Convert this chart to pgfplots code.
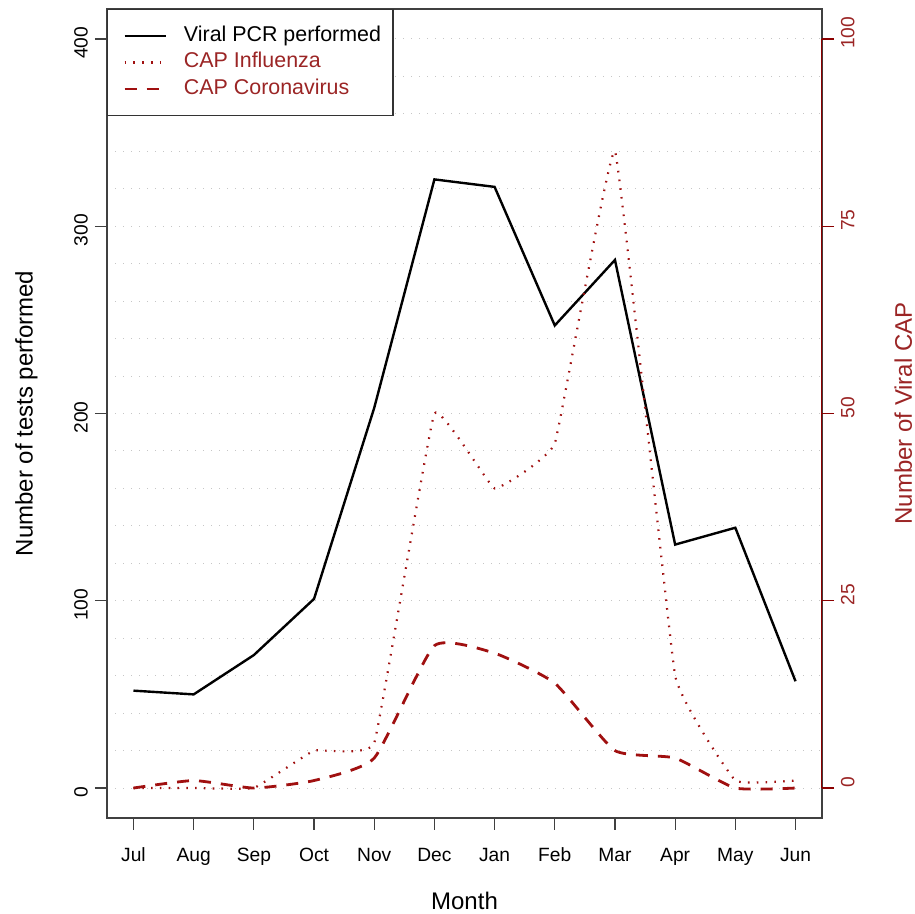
\documentclass[border=0pt]{standalone}
\usepackage{fontspec}
\setmainfont{Liberation Sans}
\usepackage{pgfplots}
\pgfplotsset{compat=1.18}
\definecolor{dred}{HTML}{8B0000}
\definecolor{lred}{HTML}{A01010}
\definecolor{tred}{HTML}{9B2525}
\pgfplotsset{
  common/.style={
    at={(0,0)}, anchor=south west,
    scale only axis, width=357.5pt, height=404.5pt,
    xmin=0.56, xmax=12.44,
    tick align=outside, major tick length=6pt, minor tick length=0pt,
    /pgf/number format/assume math mode=true,
    label style={font=\fontsize{12}{14}\selectfont},
  }
}
\begin{document}
\begin{tikzpicture}
\path[use as bounding box] (-53.5pt,-48pt) rectangle (404pt,409pt);
\begin{axis}[common,
  ymin=-16, ymax=416,
  xtick={1,...,12},
  xticklabels={Jul,Aug,Sep,Oct,Nov,Dec,Jan,Feb,Mar,Apr,May,Jun},
  ytick={0,100,200,300,400},
  minor ytick={0,20,...,400},
  ymajorgrids, yminorgrids,
  major grid style={gray!45, dash pattern=on 0.5pt off 3.5pt, line width=0.5pt},
  minor grid style={gray!45, dash pattern=on 0.5pt off 3.5pt, line width=0.5pt},
  axis line style={black!75, line width=0.6pt},
  tick style={black!75, line width=0.6pt},
  xtick pos=bottom, ytick pos=left,
  xticklabel style={font=\fontsize{9.6}{11}\selectfont, yshift=-5.5pt},
  yticklabel style={rotate=90, anchor=south, font=\fontsize{9.6}{11}\selectfont, xshift=-2pt},
  xlabel={Month}, ylabel={Number of tests performed},
  xlabel style={yshift=-6.5pt},
  ylabel style={yshift=11.5pt},
  legend style={at={(0,1)}, anchor=north west, draw=black!80, line width=0.6pt, fill=white,
    font=\fontsize{10.7}{13}\selectfont, inner xsep=5pt, inner ysep=6.5pt,
    column sep=7.5pt,
    cells={anchor=west}, nodes={text height=8pt, text depth=2.5pt, inner ysep=1.4pt, inner xsep=1pt}},
  legend image code/.code={\path[draw=none,fill=none] (0pt,0pt) -- (0.1pt,0pt); \draw[#1] (3.5pt,0pt) -- (24pt,0pt);},
]
\addplot[black, line width=1.2pt] coordinates {
 (1,52)(2,50)(3,71)(4,101)(5,203)(6,325)(7,321)(8,247)(9,282)(10,130)(11,139)(12,57)};
\addlegendentry{Viral PCR performed}
\addlegendimage{lred, line width=1.1pt, dash pattern=on 0.8pt off 3.6pt}
\addlegendentry{\textcolor{tred}{CAP Influenza}}
\addlegendimage{lred, line width=1.4pt, dash pattern=on 6pt off 5pt}
\addlegendentry{\textcolor{tred}{CAP Coronavirus}}
\end{axis}
\begin{axis}[common,
  ymin=-4, ymax=104,
  axis x line=none, axis y line*=right,
  y axis line style={draw=none},
  ytick={0,25,50,75,100},
  tick style={dred, line width=0.6pt},
  yticklabel style={rotate=90, anchor=north, text=tred, font=\fontsize{9.6}{11}\selectfont, xshift=3pt},
  ylabel={Number of Viral CAP},
  ylabel style={text=tred, yshift=-13pt},
]
\draw[dred, line width=0.6pt] (axis cs:12.44,0) -- (axis cs:12.44,100);
\addplot[lred, line width=1.1pt, dash pattern=on 0.8pt off 3.6pt, smooth, tension=0.15] coordinates {
 (1,0)(2,0)(3,0)(4,5)(5,6)(6,50)(7,40)(8,46)(9,85)(10,15)(11,1)(12,1)};
\addplot[lred, line width=1.4pt, dash pattern=on 6pt off 5pt, smooth, tension=0.3] coordinates {
 (1,0)(2,1)(3,0)(4,1)(5,4)(6,19)(7,18)(8,14)(9,5)(10,4)(11,0)(12,0)};
\end{axis}
\end{tikzpicture}
\end{document}
